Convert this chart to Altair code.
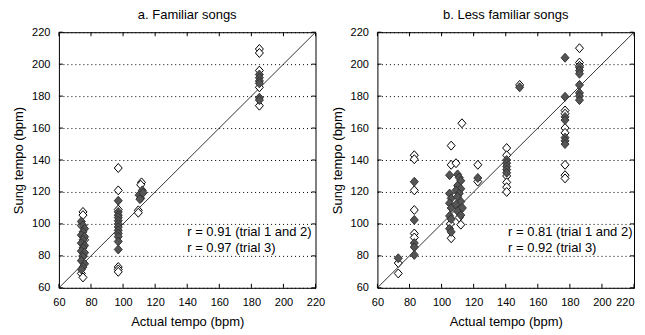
import altair as alt
import pandas as pd

TICKS = [60, 80, 100, 120, 140, 160, 180, 200, 220]

# ---- a. Familiar songs ----
fam_open_x = [75, 75, 74, 76, 75, 74, 75,
              97, 97, 97, 97, 97, 97,
              111.5, 111, 109.5, 109.5,
              185, 185, 185, 185, 185]
fam_open_y = [107.5, 105.5, 99, 90, 80, 69, 66.5,
              135, 121, 109, 73, 71.5, 70,
              126, 124.5, 108.5, 107,
              209.5, 207, 196, 185.5, 174]
fam_fill_x = [74, 75, 76, 75, 74, 76, 75, 74, 76, 75, 74, 76, 75, 74, 76, 75, 74,
              97, 97, 97, 97, 97, 97, 97, 97, 97, 97, 97, 97,
              110, 111, 112, 112.5, 110.5,
              185, 185, 185, 185, 185, 185]
fam_fill_y = [101.5, 99, 97, 95, 93, 92, 90, 88, 86.5, 85, 83, 82, 79.5, 77, 75, 73, 71.5,
              114.5, 107.5, 105.5, 104, 102, 100, 98, 96, 94, 92, 89, 84,
              118, 116, 121, 119.5, 115.5,
              193.5, 191.5, 189.5, 188, 179, 177.5]
fam_r = ["r = 0.91 (trial 1 and 2)", "r = 0.97 (trial 3)"]

# ---- b. Less familiar songs ----
less_open_x = [73, 73,
               83, 83, 83, 83, 83, 83,
               106, 106, 106, 105.5,
               112.7, 109, 112, 111,
               122.6, 122.6,
               140.6, 140.6, 140.6, 140.6, 140.6, 140.6,
               148.7,
               177, 177, 177, 177, 177, 177, 177,
               186, 186, 186]
less_open_y = [75.5, 69,
               143, 140.5, 121, 108.7, 94, 91.5,
               149, 137, 91, 100,
               163, 138, 99.5, 104,
               137, 126.5,
               147.5, 143, 130, 126, 123, 120,
               187,
               171, 169, 160, 157, 137, 130.5, 128.5,
               210, 201, 199]
less_fill_x = [73,
               83, 83, 83, 83, 83,
               105, 105, 106, 105, 106, 105, 106, 105, 106,
               110, 111, 112, 110, 112, 109, 111, 110, 112, 109, 113, 110, 112,
               122.6,
               140.6, 140.6, 140.6, 140.6, 140.6,
               148.7,
               177, 177, 177, 177, 177, 177, 177,
               186, 186, 186, 186, 186, 186, 186]
less_fill_y = [78.5,
               126.4, 102.5, 88, 85.5, 80.6,
               130.5, 119, 116, 113, 110, 105, 103, 97, 95,
               131, 129, 127, 124, 122, 121, 119, 117, 114, 112, 110, 108, 105.5,
               128.75,
               140, 138, 136, 134, 132,
               185.5,
               204, 179.6, 167, 165, 154, 152, 150,
               198, 196, 194, 187, 182, 180, 177.5]
less_r = ["r = 0.81 (trial 1 and 2)", "r = 0.92 (trial 3)"]

W, H = 257, 256
FONT = "Liberation Sans"
DIAMOND = "M0,-1.12L1,0L0,1.12L-1,0Z"


def panel(title, ox, oy, fx, fy, rtext, rx, flush_last):
    scale = alt.Scale(domain=[60, 220], nice=False, zero=False)
    label_align = ({"condition": {"test": "datum.value == 220", "value": "right"}, "value": "center"}
                   if flush_last else "center")
    xaxis = alt.Axis(values=TICKS, title="Actual tempo (bpm)", grid=False, ticks=False,
                     domain=False, labelPadding=9, titlePadding=8, labelAlign=label_align)
    yaxis = alt.Axis(values=TICKS, title="Sung tempo (bpm)", grid=True, gridDash=[1, 3],
                     gridColor="black", gridOpacity=1, gridWidth=1, ticks=False,
                     domain=False, labelPadding=9, titlePadding=6)
    X = alt.X("x:Q", scale=scale, axis=xaxis)
    Y = alt.Y("y:Q", scale=scale, axis=yaxis)

    ticks_df = pd.DataFrame({"x": TICKS, "y": TICKS})
    line_df = pd.DataFrame({"x": [60, 220], "y": [60, 220]})
    open_df = pd.DataFrame({"x": ox, "y": oy})
    fill_df = pd.DataFrame({"x": fx, "y": fy})
    text_df = pd.DataFrame({"x": [rx, rx], "y": [95, 85], "t": rtext})

    diag = alt.Chart(line_df).mark_line(color="black", strokeWidth=0.8).encode(x=X, y=Y)
    tb = alt.Chart(ticks_df).mark_rule(color="black").encode(x=X, y=alt.value(H), y2=alt.value(H - 4))
    tt = alt.Chart(ticks_df).mark_rule(color="black").encode(x=X, y=alt.value(0), y2=alt.value(4))
    tl = alt.Chart(ticks_df).mark_rule(color="black").encode(y=Y, x=alt.value(0), x2=alt.value(4))
    tr = alt.Chart(ticks_df).mark_rule(color="black").encode(y=Y, x=alt.value(W), x2=alt.value(W - 4))
    po = alt.Chart(open_df).mark_point(shape=DIAMOND, size=64, filled=True, fill="white",
                                       stroke="black", strokeWidth=1, opacity=1).encode(x=X, y=Y)
    pf = alt.Chart(fill_df).mark_point(shape=DIAMOND, size=64, filled=True, fill="#555555",
                                       stroke="#333333", strokeWidth=1, opacity=1).encode(x=X, y=Y)
    txt = alt.Chart(text_df).mark_text(align="left", baseline="middle", fontSize=13,
                                       font=FONT, color="black").encode(x=X, y=Y, text="t:N")
    return alt.layer(diag, po, pf, tb, tt, tl, tr, txt).properties(
        width=W, height=H,
        title=alt.Title(title, fontSize=13, font=FONT, fontWeight="normal", offset=4, color="black"),
    )


left = panel("a. Familiar songs", fam_open_x, fam_open_y, fam_fill_x, fam_fill_y, fam_r, 140, False)
right = panel("b. Less familiar songs", less_open_x, less_open_y, less_fill_x, less_fill_y, less_r, 141.5, True)

chart = alt.hconcat(left, right, spacing=5).properties(
    padding={"left": 4, "top": 0, "right": 0, "bottom": 0},
    background="white",
).configure_view(stroke="black", strokeWidth=1).configure_axis(
    labelFont=FONT, titleFont=FONT, labelFontSize=11, titleFontSize=13,
    labelColor="black", titleColor="black", titleFontWeight="normal",
)

chart.save("out.html", embed_options={"renderer": "svg", "actions": False})
